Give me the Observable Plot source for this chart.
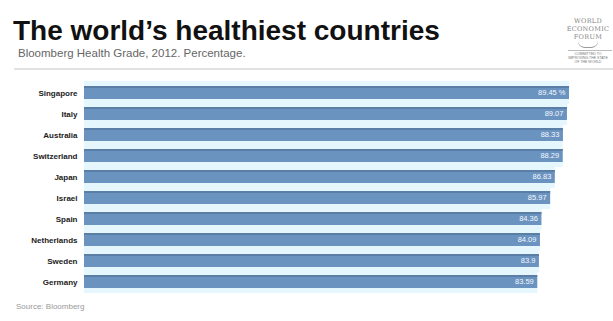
<!DOCTYPE html>
<html>
<head>
<meta charset="utf-8">
<script src="https://cdn.jsdelivr.net/npm/d3@7"></script>
<script src="https://cdn.jsdelivr.net/npm/@observablehq/plot@0.6"></script>
<style>
  html, body { margin: 0; padding: 0; background: #fff; }
  #page { position: relative; width: 613px; height: 321px; overflow: hidden; font-family: "Liberation Sans", Arial, sans-serif; }
  #title { position: absolute; left: 13px; top: 16px; font-size: 28px; font-weight: bold; color: #111; letter-spacing: 0; line-height: 30px; white-space: nowrap; }
  #subtitle { position: absolute; left: 18px; top: 47px; font-size: 11.5px; color: #666; line-height: 13px; white-space: nowrap; }
  #rule { position: absolute; left: 14px; right: 0; top: 68px; height: 2px; background: #e2e2e2; }
  #logo { position: absolute; left: 560px; top: 17px; width: 56px; text-align: center; font-family: "DejaVu Serif", serif; color: #888; font-size: 6.5px; line-height: 8px; letter-spacing: 0.3px; }
  #logo .small { font-family: "Liberation Sans", sans-serif; font-size: 3.5px; line-height: 4px; letter-spacing: 0; margin-top: 11px; color: #777; }
  #arc { position: absolute; left: 578px; top: 41px; width: 20px; height: 6px; border-bottom: 1px solid #999; border-radius: 0 0 10px 10px; }
  #logoRule { position: absolute; left: 568px; top: 50px; width: 44px; height: 1px; background: #bbb; }
  #chart { position: absolute; left: 0; top: 72px; }
  #source { position: absolute; left: 16px; top: 302px; font-size: 8px; color: #999; white-space: nowrap; }
</style>
</head>
<body>
<div id="page">
  <div id="title">The world’s healthiest countries</div>
  <div id="subtitle">Bloomberg Health Grade, 2012. Percentage.</div>
  <div id="logo">WORLD<br>ECONOMIC<br>FORUM<div class="small">COMMITTED TO<br>IMPROVING THE STATE<br>OF THE WORLD</div></div>
  <div id="arc"></div>
  <div id="logoRule"></div>
  <div id="rule"></div>
  <div id="chart"></div>
  <div id="source">Source: Bloomberg</div>
</div>
<script>
const countries = ["Singapore", "Italy", "Australia", "Switzerland", "Japan", "Israel", "Spain", "Netherlands", "Sweden", "Germany"];
const grades = [89.45, 89.07, 88.33, 88.29, 86.83, 85.97, 84.36, 84.09, 83.9, 83.59];
const valueLabels = ["89.45 %", "89.07", "88.33", "88.29", "86.83", "85.97", "84.36", "84.09", "83.9", "83.59"];

const data = countries.map((c, i) => ({country: c, grade: grades[i], label: valueLabels[i]}));

const chart = Plot.plot({
  width: 613,
  height: 228,
  marginLeft: 84,
  marginRight: 41,
  marginTop: 5,
  marginBottom: 3,
  style: {fontFamily: "Liberation Sans, Arial, sans-serif", background: "transparent"},
  x: {domain: [0, 90], axis: null},
  y: {domain: countries, padding: 0.38, label: null, tickSize: 0, tickPadding: 7},
  marks: [
    Plot.barX(data, {y: "country", x: "grade", fill: "#e5f7fc", insetTop: -5, insetBottom: -5}),
    Plot.barX(data, {y: "country", x: "grade", fill: "#6a93bf"}),
    Plot.barX(data, {y: "country", x: "grade", fill: "#5a7ea6", insetBottom: 11}),
    Plot.text(data, {y: "country", x: "grade", text: "label", textAnchor: "end", dx: -4, fill: "#f4f8ff", fontSize: 7.5}),
    Plot.axisY({tickSize: 0, tickPadding: 7, fontSize: 8, fontWeight: "bold", fill: "#222", label: null})
  ]
});
document.getElementById("chart").appendChild(chart);
</script>
</body>
</html>
